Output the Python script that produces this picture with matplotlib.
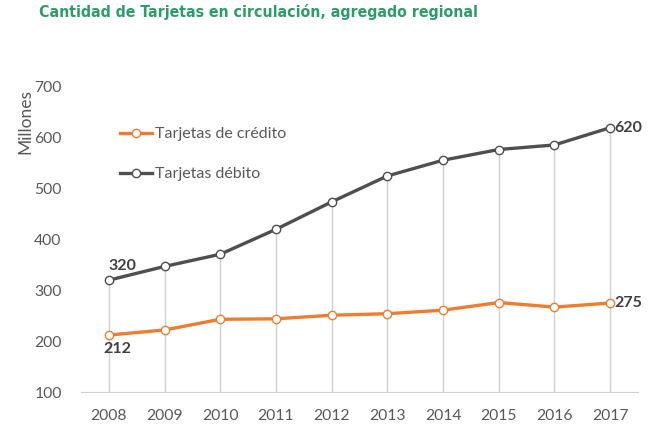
import matplotlib
matplotlib.use("Agg")
import matplotlib.pyplot as plt

years = ["2008", "2009", "2010", "2011", "2012", "2013", "2014", "2015", "2016", "2017"]
credito = [212, 222, 243, 244, 251, 254, 261, 276, 267, 275]
debito = [320, 347, 371, 420, 474, 525, 556, 577, 586, 620]
yticks = [100, 200, 300, 400, 500, 600, 700]

W, H = 662, 441
fig = plt.figure(figsize=(W / 100, H / 100), dpi=100)
ax = fig.add_axes([81 / W, 1 - 392 / H, (638 - 81) / W, (392 - 87) / H])

x = list(range(len(years)))
orange = "#ED7D31"
dark = "#4F4F4F"
txt = "#595959"
font = "Lato"

# drop lines
for xi, c, d in zip(x, credito, debito):
    ax.plot([xi, xi], [100, max(c, d)], color="#D0D0D0", lw=1.0, zorder=1)

ax.plot(x, credito, color=orange, lw=2.4, marker="o", ms=6, mfc="white",
        mec=orange, mew=1.0, zorder=3, label="Tarjetas de crédito")
ax.plot(x, debito, color=dark, lw=2.4, marker="o", ms=6, mfc="white",
        mec=dark, mew=1.0, zorder=3, label="Tarjetas débito")

ax.set_xlim(-0.5, len(years) - 0.5)
ax.set_ylim(100, 700)
ax.set_xticks(x)
ax.set_xticklabels(years)
ax.set_yticks(yticks)
for s in ["top", "right", "left"]:
    ax.spines[s].set_visible(False)
ax.spines["bottom"].set_color("#D0D0D0")
ax.tick_params(axis="both", length=0, labelsize=11.3, labelcolor=txt)
ax.tick_params(axis="x", pad=12)
ax.tick_params(axis="y", pad=14)
for lab in ax.get_xticklabels() + ax.get_yticklabels():
    lab.set_family(font)

lbl = dict(fontsize=11.5, fontweight="bold", color="#404040", family=font)
ax.annotate(str(debito[0]), (0, debito[0]), xytext=(0, 5), textcoords="offset points",
            ha="left", va="bottom", **lbl)
ax.annotate(str(credito[0]), (0, credito[0]), xytext=(-4, -5), textcoords="offset points",
            ha="left", va="top", **lbl)
ax.annotate(str(debito[-1]), (x[-1], debito[-1]), xytext=(3, 0), textcoords="offset points",
            ha="left", va="center", **lbl)
ax.annotate(str(credito[-1]), (x[-1], credito[-1]), xytext=(3, 0), textcoords="offset points",
            ha="left", va="center", **lbl)

leg = ax.legend(loc="upper left", bbox_to_anchor=(0.045, 0.915), frameon=False,
                prop={"family": font, "size": 11.5}, labelspacing=1.6,
                handlelength=2.0, handletextpad=0.15)
for t in leg.get_texts():
    t.set_color(txt)

fig.text(25 / W, 1 - 122 / H, "Millones", rotation=90, ha="center", va="center",
         fontsize=12.5, color=txt, family=font)
fig.text(0.5 * (50 + 467) / W, 1 - 12 / H, "Cantidad de Tarjetas en circulación, agregado regional",
         ha="center", va="center", fontsize=11.3, fontweight="bold", color="#2E9C68",
         family="DejaVu Sans", fontstretch="condensed")

fig.savefig("out.png", dpi=100)
